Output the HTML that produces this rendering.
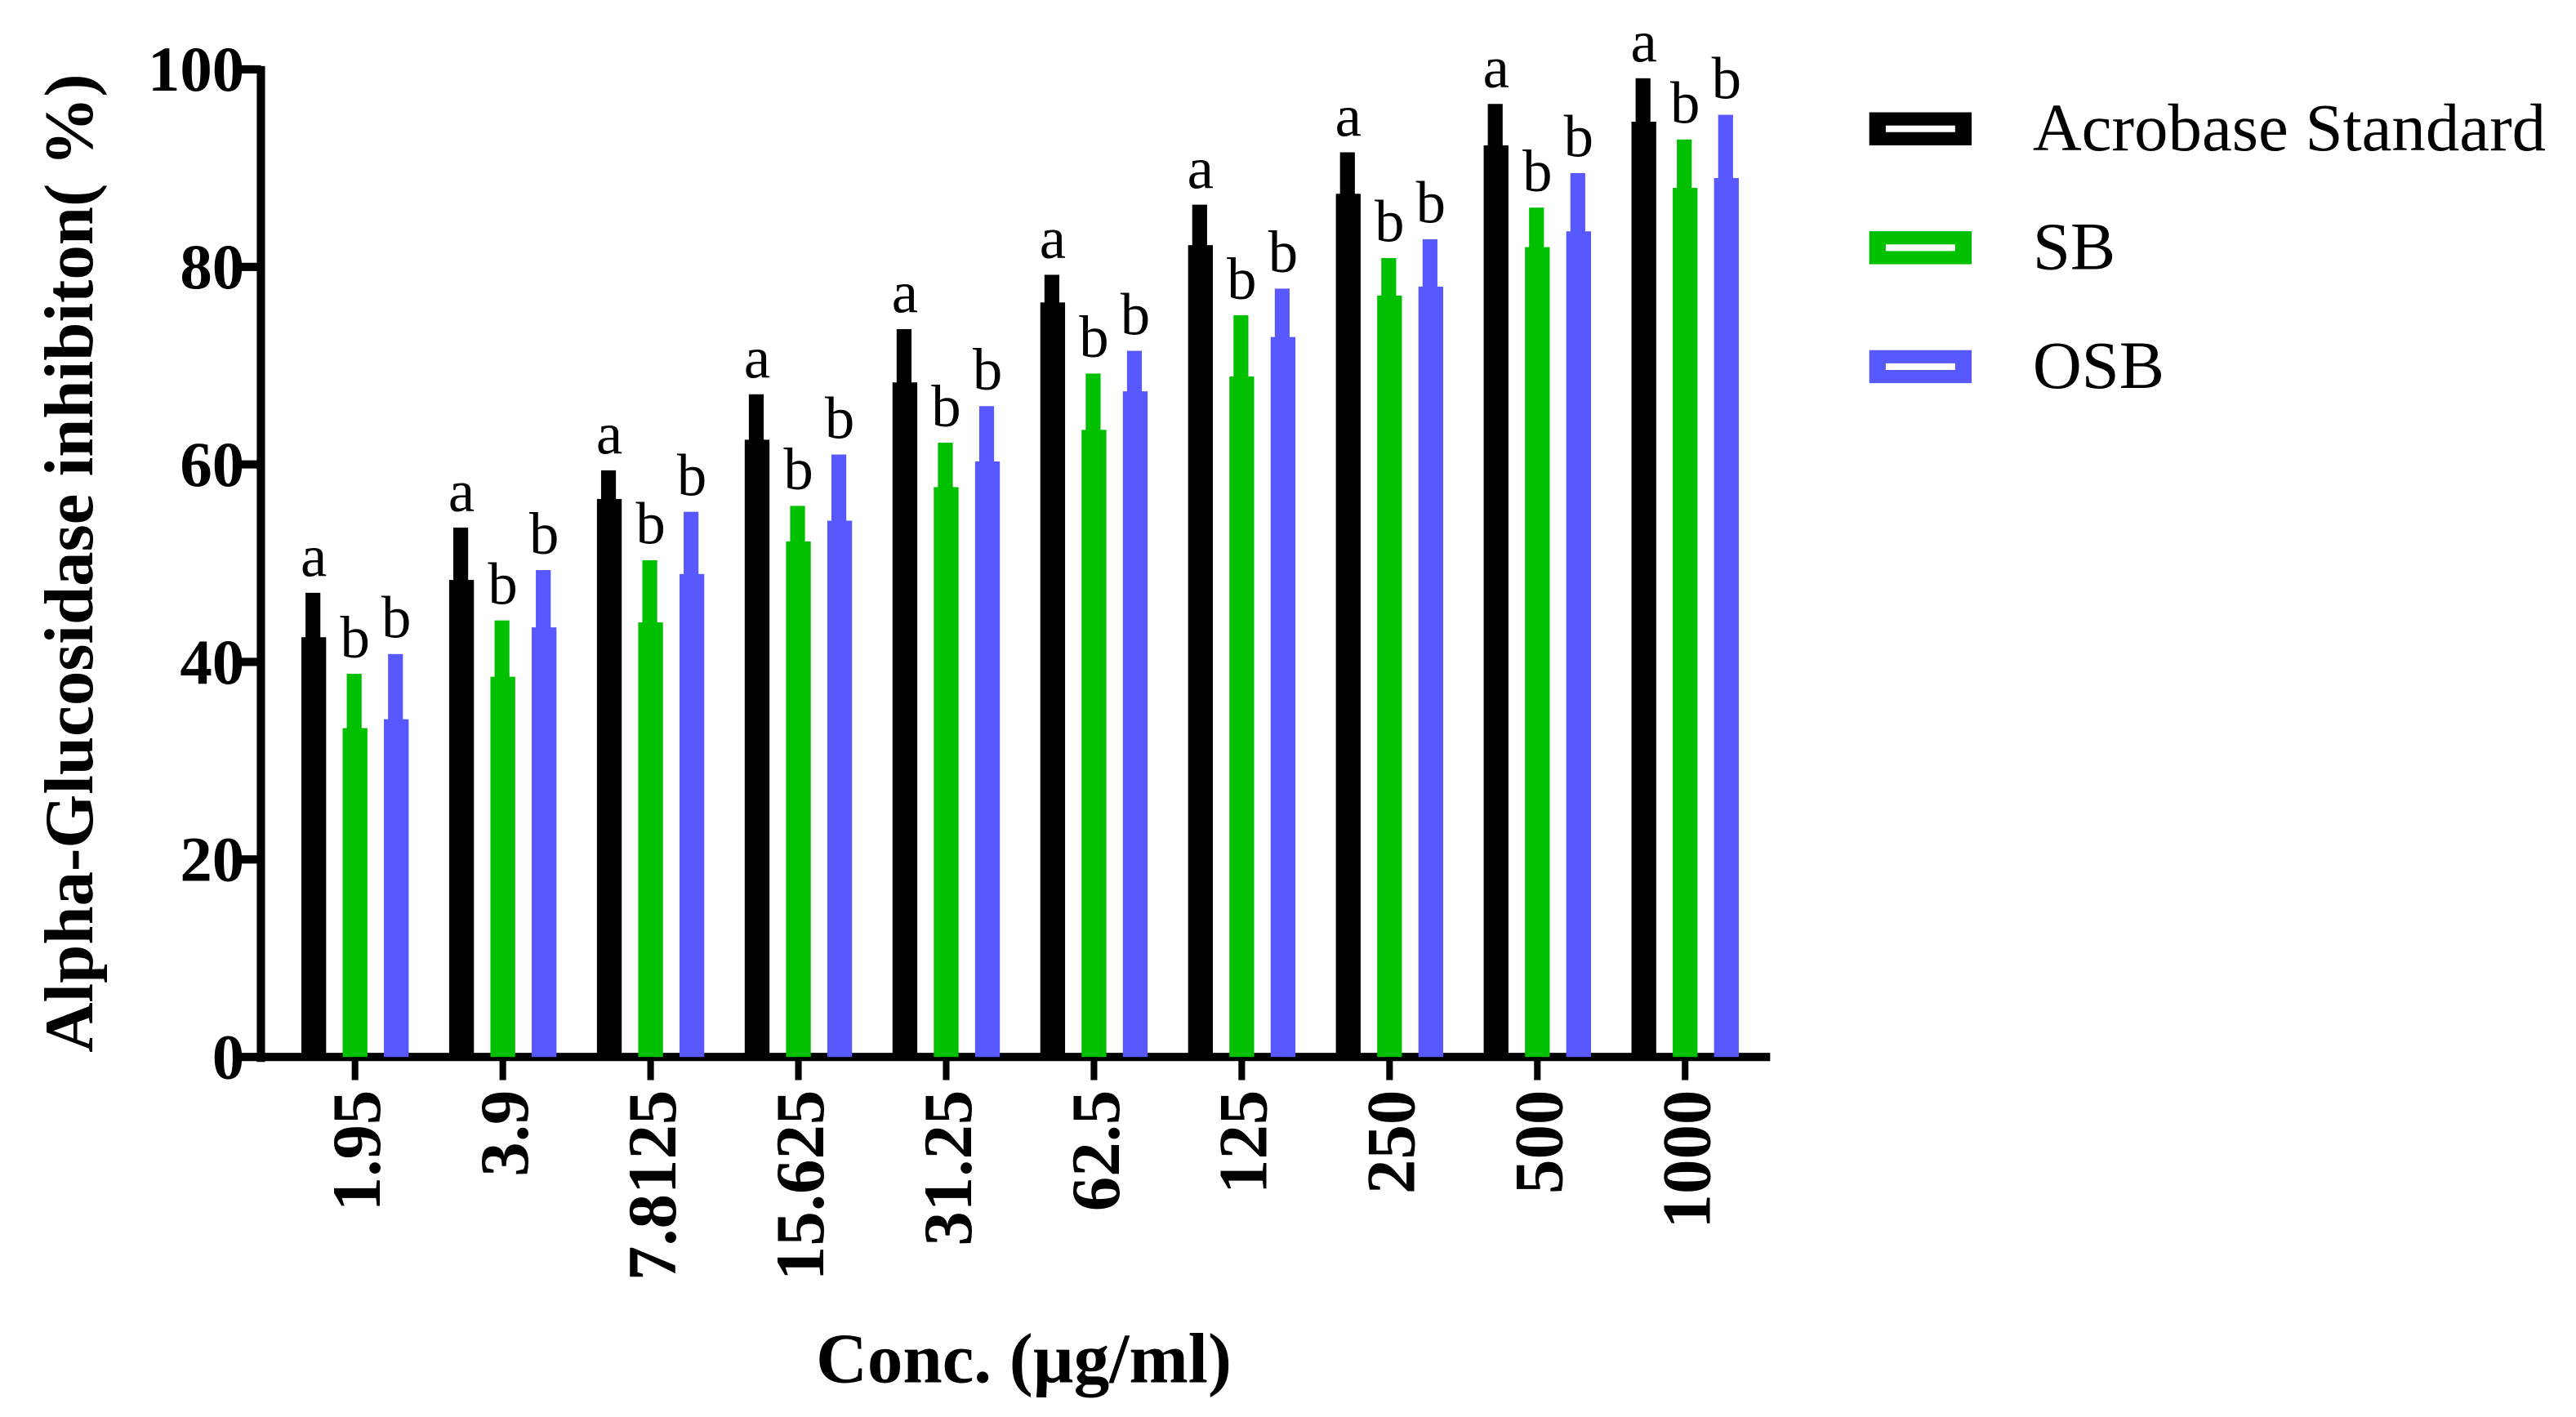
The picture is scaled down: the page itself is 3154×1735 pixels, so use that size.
<!DOCTYPE html>
<html><head><meta charset="utf-8"><style>
html,body{margin:0;padding:0;background:#fff;}
svg{display:block;}
text{font-family:"Liberation Serif",serif;}
</style></head><body>
<svg id="chart" width="3154" height="1735" viewBox="0 0 1560 858" preserveAspectRatio="none" xmlns="http://www.w3.org/2000/svg">
<g id="axes"></g><g id="bars"></g><g id="legend"></g>
</svg>
<script>
const categories = ["1.95","3.9","7.8125","15.625","31.25","62.5","125","250","500","1000"];
const seriesNames = ["Acrobase Standard","SB","OSB"];
const stdMean = [42.5,48.3,56.5,62.5,68.3,76.4,82.2,87.4,92.3,94.7];
const stdUpper = [47,53.6,59.4,67.1,73.7,79.2,86.3,91.6,96.5,99.1];
const sbMean = [33.3,38.5,44,52.2,57.7,63.5,68.9,77.1,82,88];
const sbUpper = [38.8,44.2,50.3,55.8,62.2,69.2,75.1,80.9,86,92.9];
const osbMean = [34.2,43.5,48.9,54.3,60.3,67.4,72.9,78,83.6,89];
const osbUpper = [40.8,49.3,55.2,61,65.9,71.5,77.8,82.8,89.5,95.4];
const letters = ["a","b","b"];
const yTicks = [0,20,40,60,80,100];

const NS="http://www.w3.org/2000/svg";
const colors=["#000000","#00c000","#5858ff"];
const x0=158,x1=1072,y0=640,yTop=42;
function yScale(v){return y0-(v/100)*(y0-yTop);}
function xCenter(i){return 215+i*89.5;}
function mk(tag,attrs,parent,txt){const e=document.createElementNS(NS,tag);for(const k in attrs)e.setAttribute(k,attrs[k]);if(txt!==undefined)e.textContent=txt;parent.appendChild(e);return e;}
const axes=document.getElementById('axes'),bars=document.getElementById('bars'),legend=document.getElementById('legend');

let el=mk('line',{x1:x0,y1:yTop-2,x2:x0,y2:y0+3,stroke:'#000','stroke-width':5},axes);


el=mk('line',{x1:x0-3,y1:y0,x2:x1,y2:y0,stroke:'#000','stroke-width':5},axes);


yTicks.forEach(t=>{
  const y=yScale(t);
  let l=mk('line',{x1:x0-14,y1:y,x2:x0,y2:y,stroke:'#000','stroke-width':5},axes);
  
  
  let tx=mk('text',{x:x0-10,y:y+13,'text-anchor':'end','font-size':39,'font-weight':'bold'},axes,String(t));
  
  
});
categories.forEach((c,i)=>{
  const x=xCenter(i);
  let l=mk('line',{x1:x,y1:y0,x2:x,y2:y0+14,stroke:'#000','stroke-width':4},axes);
  
  
  let tx=mk('text',{x:0,y:0,'text-anchor':'end','font-size':42,'font-weight':'bold',transform:`translate(${x+15},${y0+20}) rotate(-90)`},axes,c);
  
  
});
el=mk('text',{x:0,y:0,'text-anchor':'middle','font-size':42,'font-weight':'bold',transform:`translate(56,${(y0+yTop)/2}) rotate(-90)`},axes,'Alpha-Glucosidase inhibiton( %)');


el=mk('text',{x:620,y:837,'text-anchor':'middle','font-size':43,'font-weight':'bold'},axes,'Conc. (µg/ml)');



const means=[stdMean,sbMean,osbMean],uppers=[stdUpper,sbUpper,osbUpper];
categories.forEach((c,i)=>{
  for(let s=0;s<3;s++){
    const cx=xCenter(i)+(s-1)*25;
    const ym=yScale(means[s][i]),yu=yScale(uppers[s][i]);
    let b=mk('rect',{x:cx-7.5,y:ym,width:15,height:y0-ym,fill:colors[s]},bars);
    
    
    let e=mk('rect',{x:cx-5,y:yu,width:9,height:ym-yu+1,fill:colors[s]},bars);
    
    
    let t=mk('text',{x:cx,y:yu-10,'text-anchor':'middle','font-size':36},bars,letters[s]);
    
    
  }
});
seriesNames.forEach((n,s)=>{
  const y=78+s*72;
  let g=mk('g',{},legend);
  
  
  mk('rect',{x:1132,y:y-10,width:62,height:20,fill:colors[s]},g);
  mk('rect',{x:1142,y:y-2,width:42,height:4,fill:'#fff'},g);
  mk('text',{x:1231,y:y+13,'font-size':41},g,n);
});
</script>
</body></html>
